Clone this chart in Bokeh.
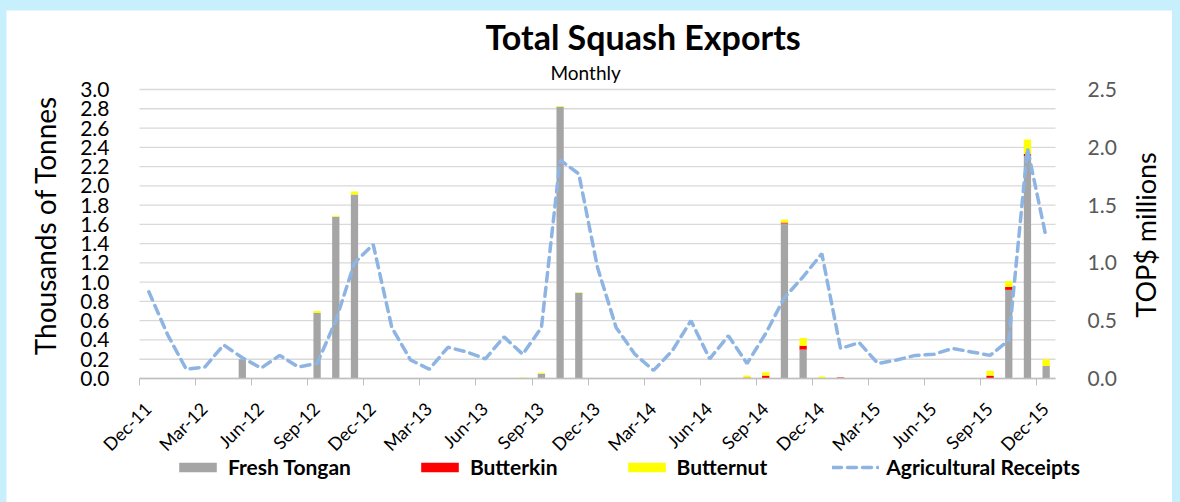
import math
from bokeh.plotting import figure
from bokeh.models import (Range1d, LinearAxis, FixedTicker, Legend, LegendItem, Label,
                          NumeralTickFormatter, GlobalInlineStyleSheet)
from bokeh.embed import file_html
from bokeh.resources import INLINE

# ---------------- data ----------------
months = ["Dec-11", "Jan-12", "Feb-12", "Mar-12", "Apr-12", "May-12", "Jun-12", "Jul-12",
          "Aug-12", "Sep-12", "Oct-12", "Nov-12", "Dec-12", "Jan-13", "Feb-13", "Mar-13",
          "Apr-13", "May-13", "Jun-13", "Jul-13", "Aug-13", "Sep-13", "Oct-13", "Nov-13",
          "Dec-13", "Jan-14", "Feb-14", "Mar-14", "Apr-14", "May-14", "Jun-14", "Jul-14",
          "Aug-14", "Sep-14", "Oct-14", "Nov-14", "Dec-14", "Jan-15", "Feb-15", "Mar-15",
          "Apr-15", "May-15", "Jun-15", "Jul-15", "Aug-15", "Sep-15", "Oct-15", "Nov-15",
          "Dec-15"]

fresh_tongan = [0, 0, 0, 0, 0, 0.20, 0, 0, 0, 0.68, 1.68, 1.91,
                0, 0, 0, 0, 0, 0, 0, 0, 0, 0.05, 2.82, 0.89,
                0, 0, 0, 0, 0, 0, 0, 0, 0, 0.0, 1.61, 0.30,
                0, 0.006, 0, 0, 0, 0, 0, 0, 0, 0, 0.92, 2.31,
                0.13]
butterkin = [0, 0, 0, 0, 0, 0, 0, 0, 0, 0, 0, 0,
             0, 0, 0, 0, 0, 0, 0, 0, 0, 0, 0, 0,
             0, 0, 0, 0, 0, 0, 0, 0, 0.01, 0.03, 0.01, 0.04,
             0, 0.005, 0, 0, 0, 0, 0, 0, 0, 0.03, 0.03, 0.02,
             0]
butternut = [0, 0, 0, 0, 0, 0, 0, 0, 0, 0.02, 0.01, 0.03,
             0, 0, 0, 0, 0, 0, 0, 0, 0.01, 0.01, 0.01, 0.005,
             0, 0, 0, 0, 0, 0, 0, 0, 0.02, 0.035, 0.03, 0.08,
             0.02, 0, 0, 0, 0, 0, 0, 0, 0, 0.05, 0.06, 0.15,
             0.07]

receipts = [0.75, 0.38, 0.08, 0.10, 0.29, 0.18, 0.09, 0.20, 0.10, 0.13, 0.50,
            1.00, 1.16, 0.44, 0.16, 0.08, 0.27, 0.23, 0.17, 0.36, 0.21, 0.44, 1.89,
            1.77, 0.96, 0.44, 0.21, 0.07, 0.24, 0.50, 0.17, 0.37, 0.13, 0.39, 0.70,
            0.88, 1.08, 0.26, 0.31, 0.13, 0.16, 0.20, 0.21, 0.26, 0.23, 0.20, 0.33,
            1.99, 1.22]

tick_labels = months[::3]

LEFT_MAX = 3.0
RIGHT_MAX = 2.5

# ---------------- layout constants (pixels, figure coordinates) ----------------
FONT = "Lato"
W, H = 1166, 492
LEFT, RIGHT = 133, 117            # x of the first month's start / room right of the last month
ZERO_Y, TOP_Y = 368, 79           # y of value 0 and of LEFT_MAX
n = len(months)
PX = (W - LEFT - RIGHT) / n       # pixels per month
PY = (ZERO_Y - TOP_Y) / LEFT_MAX  # pixels per left-axis unit
k = RIGHT_MAX / LEFT_MAX


def fx(px):
    return (px - LEFT) / PX


def fy(py):
    return (ZERO_Y - py) / PY


# the frame covers the whole canvas; axes are pinned inside it
p = figure(width=W, height=H, title=None,
           x_range=Range1d(fx(0), fx(W)), y_range=Range1d(fy(H), fy(0)),
           output_backend="svg", toolbar_location=None,
           min_border_left=0, min_border_right=0, min_border_top=0, min_border_bottom=0,
           background_fill_color="white", border_fill_color="white")
p.outline_line_color = None
p.stylesheets = [GlobalInlineStyleSheet(
    css="html, body { background: #c8effc !important; } body { padding: 10px 8px 0 6px !important; }")]

p.extra_y_ranges = {"r": Range1d(fy(H) * k, fy(0) * k)}

# horizontal gridlines, only across the month span
left_ticks = [round(i * 0.2, 1) for i in range(16)]
p.xgrid.visible = False
p.ygrid.visible = False
p.segment(x0=[0] * len(left_ticks), x1=[n] * len(left_ticks), y0=left_ticks, y1=left_ticks,
          line_color="#d9d9d9", line_width=1.3)

# bars (centred in each month)
src = dict(x=[i + 0.5 for i in range(n)], ft=fresh_tongan, bk=butterkin, bn=butternut)
stack = p.vbar_stack(["ft", "bk", "bn"], x="x", width=0.39, source=src,
                     color=["#a5a5a5", "#ff0000", "#ffff00"], line_color=None)

# line (right axis)
ln = p.line([i + 0.5 for i in range(n)], receipts, y_range_name="r", line_color="#8db4e2",
            line_width=3.5, line_dash="9 6", line_cap="round")

# x axis at the zero line: tick marks only
quarter_ticks = list(range(0, n, 3))
xa = p.xaxis[0]
xa.fixed_location = 0
xa.bounds = (0, n)
xa.ticker = FixedTicker(ticks=quarter_ticks)
xa.major_label_overrides = {t: "" for t in quarter_ticks}
xa.major_label_text_font_size = "1px"
xa.major_label_standoff = 0
xa.axis_line_color = "#bfbfbf"
xa.axis_line_width = 1.3
xa.major_tick_line_color = "#bfbfbf"
xa.major_tick_out = 7
xa.major_tick_in = 0
xa.minor_tick_line_color = None

# rotated month labels (slightly right of each tick, as in the source)
label_ticks = [round(t + 0.45, 2) for t in quarter_ticks]
xl = LinearAxis(ticker=FixedTicker(ticks=label_ticks), fixed_location=0, bounds=(0, n))
xl.major_label_overrides = {lt: lab for lt, lab in zip(label_ticks, tick_labels)}
xl.major_label_orientation = math.pi / 4
xl.major_label_text_font = FONT
xl.major_label_text_font_size = "18px"
xl.major_label_text_color = "black"
xl.axis_line_color = None
xl.major_tick_line_color = None
xl.major_tick_out = 0
xl.major_tick_in = 0
xl.minor_tick_line_color = None
xl.major_label_standoff = 27
p.add_layout(xl, "below")

# left axis (at the start of the month span)
ya = p.yaxis[0]
ya.fixed_location = 0
ya.bounds = (0, LEFT_MAX)
ya.ticker = FixedTicker(ticks=left_ticks)
ya.formatter = NumeralTickFormatter(format="0.0")
ya.axis_line_color = None
ya.major_tick_line_color = None
ya.minor_tick_line_color = None
ya.major_label_text_font = FONT
ya.major_label_text_font_size = "21px"
ya.major_label_text_color = "black"
ya.major_label_standoff = 24

# right axis (at the end of the month span)
ra = LinearAxis(y_range_name="r", bounds=(0, RIGHT_MAX), fixed_location=n,
                ticker=FixedTicker(ticks=[0, 0.5, 1.0, 1.5, 2.0, 2.5]),
                formatter=NumeralTickFormatter(format="0.0"))
ra.axis_line_color = None
ra.major_tick_line_color = None
ra.minor_tick_line_color = None
ra.major_label_text_font = FONT
ra.major_label_text_font_size = "21px"
ra.major_label_text_color = "#595959"
ra.major_label_standoff = 26
p.add_layout(ra, "right")

# axis titles
p.add_layout(Label(x=fx(38), y=1.59, text="Thousands of Tonnes", angle=math.pi / 2,
                   text_align="center", text_baseline="middle", text_font=FONT,
                   text_font_size="28px", text_color="black"))
p.add_layout(Label(x=fx(W - RIGHT + 90), y=1.49, text="TOP$ millions", angle=math.pi / 2,
                   text_align="center", text_baseline="middle", text_font=FONT,
                   text_font_size="27px", text_color="black"))

# chart title and subtitle
p.add_layout(Label(x=fx(479), y=fy(26), text="Total Squash Exports", text_align="left",
                   text_baseline="alphabetic", text_font=FONT, text_font_size="34px",
                   text_font_style="bold", text_color="black"))
p.add_layout(Label(x=fx(544), y=fy(62), text="Monthly", text_align="left",
                   text_baseline="alphabetic", text_font=FONT, text_font_size="19px",
                   text_color="black"))

# legend (inside the frame, under the month labels)
legend = Legend(items=[LegendItem(label="Fresh Tongan", renderers=[stack[0]]),
                       LegendItem(label="Butterkin", renderers=[stack[1]]),
                       LegendItem(label="Butternut", renderers=[stack[2]]),
                       LegendItem(label="Agricultural Receipts", renderers=[ln])],
                orientation="horizontal", location=(168, 23),
                glyph_width=47, glyph_height=12, label_standoff=7, spacing=65,
                label_text_font=FONT, label_text_font_size="21px", label_text_color="black",
                label_text_font_style="bold", border_line_color=None,
                background_fill_alpha=0, padding=0, margin=0)
p.add_layout(legend, "center")

open("out.html", "w").write(file_html(p, INLINE))
